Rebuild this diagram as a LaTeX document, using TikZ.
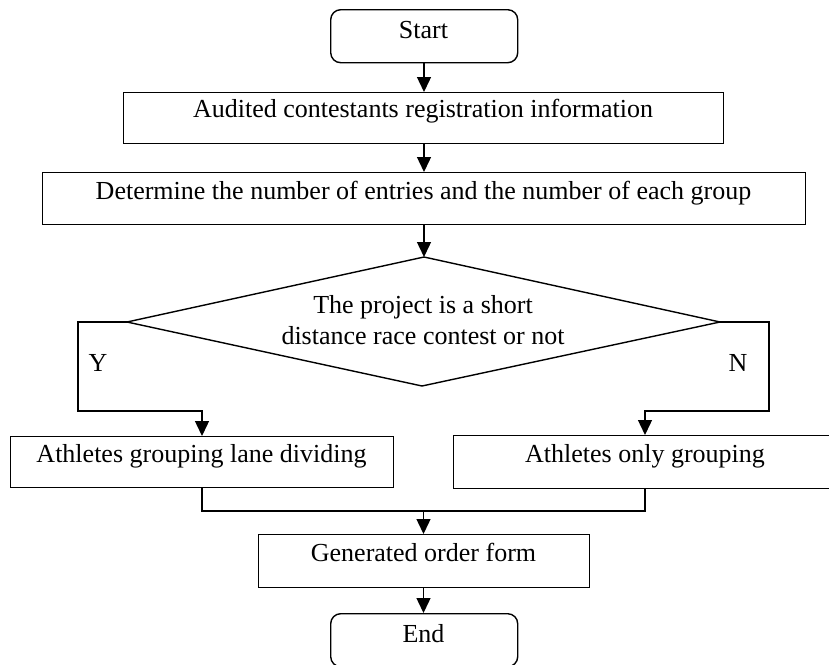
\documentclass[tikz,border=0pt]{standalone}
\usepackage{fontspec}
\setmainfont{Liberation Serif}
\usetikzlibrary{arrows.meta}
\begin{document}
\begin{tikzpicture}[x=1pt,y=-1pt,
  box/.style={draw, line width=1.4pt, inner sep=0pt, anchor=north west},
  term/.style={box, rounded corners=10pt},
  txt/.style={font=\fontsize{26}{31}\selectfont, inner sep=0pt, anchor=base},
  arr/.style={-{Triangle[length=15pt,width=14pt]}, line width=1.4pt},
  conn/.style={line width=1.4pt}]
\useasboundingbox (0,0) rectangle (829,664);
% boxes
\node[term, minimum width=187pt, minimum height=53pt] (start) at (330,9) {};
\node[box, minimum width=600pt, minimum height=51pt] (b2) at (123,92) {};
\node[box, minimum width=763pt, minimum height=52pt] (b3) at (42,172) {};
\draw[line width=1.4pt] (424,257) coordinate (dtop) -- (720,322) coordinate (dright)
  -- (422,386) coordinate (dbot) -- (127,322) coordinate (dleft) -- cycle;
\node[box, minimum width=383pt, minimum height=51pt] (ba) at (10,436) {};
\node[box, minimum width=385pt, minimum height=53pt] (bb) at (453,435) {};
\node[box, minimum width=331pt, minimum height=53pt] (gen) at (258,534) {};
\node[term, minimum width=187pt, minimum height=53pt] (end) at (330,613) {};
% texts
\node[txt] (tstart) at (423.5,38) {Start};
\node[txt] (t2) at (423,117) {Audited contestants registration information};
\node[txt] (t3) at (423.5,199) {Determine the number of entries and the number of each group};
\node[txt] (td1) at (423,313) {The project is a short};
\node[txt] (td2) at (423,344) {distance race contest or not};
\node[txt] (ty) at (98,371) {Y};
\node[txt] (tn) at (738,371) {N};
\node[txt] (ta) at (201.5,462) {Athletes grouping lane dividing};
\node[txt] (tb) at (645,462) {Athletes only grouping};
\node[txt] (tg) at (423.5,561) {Generated order form};
\node[txt] (te) at (423.5,642) {End};
% connectors
\draw[arr] (start.south -| 424,0) -- (b2.north -| 424,0);
\draw[arr] (b2.south -| 424,0) -- (b3.north -| 424,0);
\draw[arr] (b3.south -| dtop) -- (dtop);
\draw[arr] (dleft) -- (78,322) -- (78,411) -- (202,411) -- (ba.north -| 202,0);
\draw[arr] (dright) -- (769,322) -- (769,411) -- (645,411) -- (bb.north -| 645,0);
\draw[conn] (ba.south -| 202,0) -- (202,511) coordinate (jl) -- (645,511) coordinate (jr) -- (bb.south -| 645,0);
\draw[arr] (423.5,511) coordinate (jm) -- (gen.north -| jm);
\draw[arr] (gen.south -| jm) -- (end.north -| jm);
\end{tikzpicture}
\end{document}
